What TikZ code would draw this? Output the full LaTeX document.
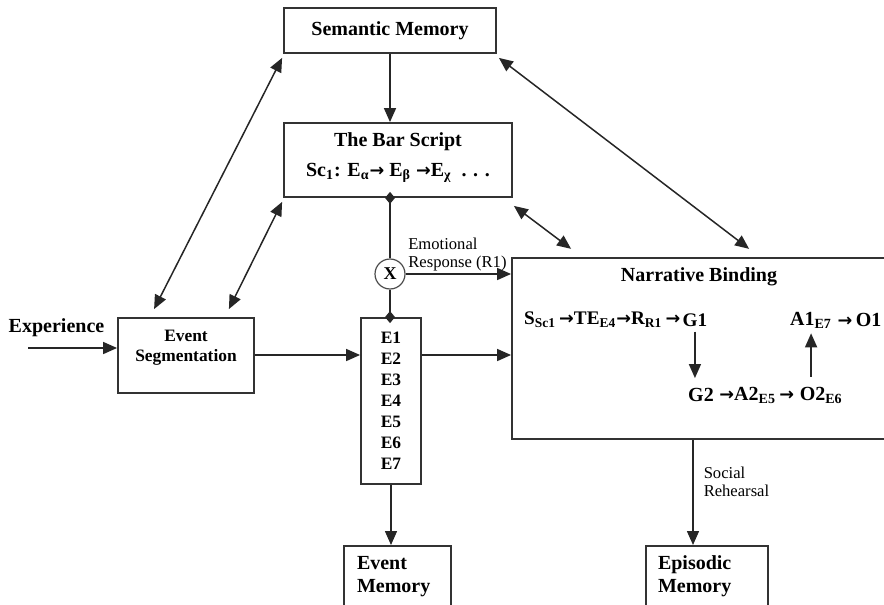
\documentclass[tikz,border=0pt]{standalone}
\usepackage{fontspec}
\setmainfont{Liberation Serif}
\newfontfamily\arrowfont{DejaVu Sans}
\usetikzlibrary{positioning, calc, arrows.meta, shapes}
\tikzset{box/.style={draw=black!80, line width=0.9pt, inner sep=0pt, align=center, font=\bfseries\fontsize{10}{12}\selectfont}}
\tikzset{word/.style={inner sep=0.4pt, font=\bfseries\fontsize{10}{12}\selectfont}}
\tikzset{note/.style={inner sep=1pt, align=left, font=\fontsize{8.3}{9}\selectfont}}
\tikzset{link/.style={draw=black!85, line width=0.75pt, -{Triangle[length=7pt,width=6pt]}}}
\tikzset{twoway/.style={draw=black!85, line width=0.75pt, {Triangle[length=7pt,width=6pt]}-{Triangle[length=7pt,width=6pt]}}}
\tikzset{junction/.style={draw=black!85, line width=0.75pt, {Diamond[length=6pt,width=5pt]}-, shorten <=-3pt}}
\newcommand{\ix}[1]{\textsubscript{#1}}
\newcommand{\nxt}{{\arrowfont\bfseries\fontsize{8.8}{10}\selectfont →}}

\begin{document}
\begin{tikzpicture}[x=0.5pt, y=-0.5pt]
      \useasboundingbox (0,0) rectangle (884,605);
      \clip (0,0) rectangle (884,605);

      \node[box, minimum width=106pt, minimum height=22.5pt] (sem) at (390,30.5) {Semantic Memory};
      \node[box, minimum width=114pt, minimum height=37pt, text depth=5pt, font=\bfseries\fontsize{10}{15}\selectfont] (bar) at (398,160)
        {The Bar Script\\Sc\ix{1}: E\ix{α}\nxt{} E\ix{β} \nxt{}E\ix{χ} \ . . .};
      \node[box, minimum width=68pt, minimum height=37.5pt, text depth=9.4pt, font=\bfseries\fontsize{8.7}{10}\selectfont] (seg) at (186,355.5) {Event\\Segmentation};
      \node[word] (exp) at (56.5,328) {Experience};
      \node[box, minimum width=30pt, minimum height=83pt, font=\bfseries\fontsize{8.7}{10.5}\selectfont] (ebox) at (391,401) {E1\\E2\\E3\\E4\\E5\\E6\\E7};
      \node[circle, draw=black!70, line width=0.6pt, minimum size=15pt, inner sep=0pt, font=\bfseries\fontsize{9}{10}\selectfont] (xr) at (390,274) {X};
      \node[box, minimum width=189pt, minimum height=90.75pt] (nb) at (701,348.5) {};
      \node[word] (nbtitle) at (699,277) {Narrative Binding};

      \node[word, anchor=west, font=\bfseries\fontsize{9.6}{12}\selectfont] (chain1) at (523,320) {S\ix{Sc1}\,\nxt{}TE\ix{E4}\nxt{}R\ix{R1}\,\nxt{}};
      \node[word, right=0pt of chain1, font=\bfseries\fontsize{9.6}{12}\selectfont] (g1) {G1};
      \node[word, anchor=west] (g2) at (687,395) {G2};
      \node[word, right=0pt of g2] (chain2) {\,\nxt{}A2\ix{E5}\,\nxt{}\,};
      \node[word, right=0pt of chain2] (o2) {O2\ix{E6}};
      \node[word, anchor=west] (a1) at (789,320) {A1\ix{E7}};
      \node[word, right=0pt of a1] (o1) {\,\nxt{}\,O1};

      \node[box, anchor=north, minimum width=53.5pt, minimum height=40pt, text width=40.5pt, align=left, text depth=23.2pt, font=\bfseries\fontsize{10}{11.5}\selectfont] (evmem) at (397.5,545) {Event\\Memory};
      \node[box, anchor=north, minimum width=61pt, minimum height=40pt, text width=49pt, align=left, text depth=23.2pt, font=\bfseries\fontsize{10}{11.5}\selectfont] (epmem) at (707,545) {Episodic\\Memory};

      \coordinate (exin) at (28,348);
      \coordinate (mid) at (0,355);
      \coordinate (sr) at (693,0);

      \draw[link] (sem.south) -- (sem.south |- bar.north);
      \draw[twoway] ($(sem.south west)+(-1,4)$) -- ($(seg.north west)+(37,-8)$);
      \draw[twoway] ($(bar.south west)+(-1,4)$) -- ($(seg.north east)+(-26,-8)$);
      \draw[twoway] ($(bar.south east)+(1,8)$) -- ($(nb.north west)+(60,-8)$);
      \draw[twoway] ($(sem.south east)+(2,4)$) -- ($(nb.north west)+(238,-8)$);

      \draw[junction] (bar.south -| xr) -- (xr);
      \draw[junction] (ebox.north -| xr) -- (xr);
      \draw[link] (xr) -- (xr -| nb.west) node[note, above right, pos=0] {Emotional\\Response (R1)};

      \draw[link] (exin) -- (exin -| seg.west);
      \draw[link] (seg.east |- mid) -- (ebox.west |- mid);
      \draw[link] (ebox.east |- mid) -- (nb.west |- mid);
      \draw[link] (ebox.south) -- (ebox.south |- evmem.north);
      \draw[link] (nb.south -| sr) -- (epmem.north -| sr) node[note, right, pos=0.4, xshift=4pt] {Social\\Rehearsal};

      \draw[link, shorten <=2pt, shorten >=4.5pt] (g1.south) -- (g1.south |- g2.north);
      \draw[link, shorten <=4.5pt, shorten >=2pt] (a1.south |- o2.north) -- (a1.south);
    \end{tikzpicture}
\end{document}
